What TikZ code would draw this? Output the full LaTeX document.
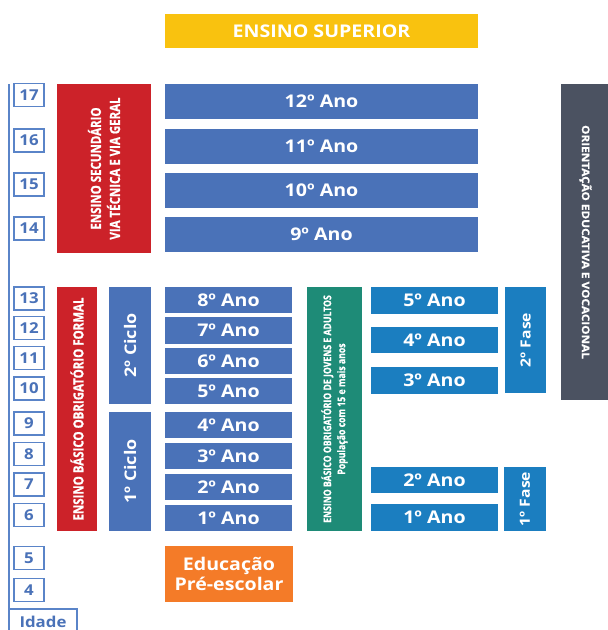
\documentclass[tikz,border=0pt]{standalone}
\usepackage{graphicx}
\usepackage{fontspec}
\setmainfont{Open Sans}[FakeStretch=1.12]
\newfontfamily\vcond{Open Sans}[FakeStretch=0.82, FakeBold=0.8]
\newfontfamily\vwide{Open Sans}[FakeStretch=1.12, FakeBold=0.6]
\definecolor{cyel}{HTML}{F9C20F}
\definecolor{cred}{HTML}{CC2229}
\definecolor{cblue}{HTML}{4A72B8}
\definecolor{cteal}{HTML}{1E8B77}
\definecolor{cbright}{HTML}{1B7EC0}
\definecolor{cgray}{HTML}{4B5261}
\definecolor{corange}{HTML}{F47B28}
\definecolor{cagebd}{HTML}{5A84C8}
\definecolor{cagetx}{HTML}{4A72B8}
\newcommand\hbx[7]{\node[#6, minimum width={(#4-#2)*1pt}, minimum height={(#5-#3)*1pt}] (#1) at ({(#2+#4)/2},{(#3+#5)/2}) {#7};}
\newcommand\vbx[8]{\node[#6, rotate=#8, minimum width={(#5-#3)*1pt}, minimum height={(#4-#2)*1pt}] (#1) at ({(#2+#4)/2},{(#3+#5)/2}) {#7};}
\newcommand\agebx[3]{\node[agebox] (#1) at (29,#2) {#3};}
\begin{document}
\begin{tikzpicture}[x=1pt,y=-1pt,
  boxbase/.style={inner sep=0pt, outer sep=0pt, text=white, align=center, font=\bfseries},
  ybox/.style={boxbase, fill=cyel, font=\fontsize{17.5}{20}\selectfont\bfseries},
  bigyear/.style={boxbase, fill=cblue, font=\fontsize{17.5}{20}\selectfont\bfseries},
  smallyear/.style={boxbase, fill=cblue, font=\fontsize{17.5}{20}\selectfont\bfseries},
  adultyear/.style={boxbase, fill=cbright, font=\fontsize{17.5}{20}\selectfont\bfseries},
  cyclebox/.style={boxbase, fill=cblue, font=\fontsize{16}{19}\selectfont\bfseries},
  phasebox/.style={boxbase, fill=cbright, font=\fontsize{14}{17}\selectfont\bfseries},
  redbox/.style={boxbase, fill=cred},
  tealbox/.style={boxbase, fill=cteal},
  graybox/.style={boxbase, fill=cgray},
  prebox/.style={boxbase, fill=corange, font=\fontsize{17.5}{20}\selectfont\bfseries},
  agebox/.style={draw=cagebd, line width=1.1pt, fill=white, minimum width=30pt, minimum height=23pt, inner sep=0pt, text=cagetx, font=\fontsize{15}{17}\selectfont\bfseries},
  idadebox/.style={draw=cagebd, line width=1.1pt, fill=white, inner sep=0pt, text=cagetx, font=\fontsize{15}{17}\selectfont\bfseries},
  ageline/.style={draw=cagebd, line width=1.1pt}
]
\useasboundingbox (0,0) rectangle (608,630);
% top
\hbx{sup}{165}{14}{478}{48}{ybox}{ENSINO SUPERIOR}
% secondary
\vbx{sec}{57}{84}{151}{253}{redbox, font=\vcond\fontsize{14}{19}\selectfont\bfseries}{ENSINO SECUNDÁRIO\\VIA TÉCNICA E VIA GERAL}{90}
\hbx{y12}{165}{84}{478}{119}{bigyear}{12º Ano}
\hbx{y11}{165}{129}{478}{164}{bigyear}{11º Ano}
\hbx{y10}{165}{173}{478}{208}{bigyear}{10º Ano}
\hbx{y9}{165}{217}{478}{252}{bigyear}{9º Ano}
\vbx{ori}{561}{84}{610}{400}{graybox, font=\vwide\fontsize{10.5}{13}\selectfont\bfseries}{ORIENTAÇÃO EDUCATIVA E VOCACIONAL}{-90}
% basic formal
\vbx{formal}{57}{287}{97}{531}{redbox, font=\vcond\fontsize{14}{17}\selectfont\bfseries}{ENSINO BÁSICO OBRIGATÓRIO FORMAL}{90}
\vbx{c2}{109}{287}{151}{404}{cyclebox}{2º Ciclo}{90}
\vbx{c1}{109}{412}{151}{531}{cyclebox}{1º Ciclo}{90}
\hbx{g8}{165}{287}{292}{313}{smallyear}{8º Ano}
\hbx{g7}{165}{317}{292}{344}{smallyear}{7º Ano}
\hbx{g6}{165}{348}{292}{374}{smallyear}{6º Ano}
\hbx{g5}{165}{378}{292}{404}{smallyear}{5º Ano}
\hbx{g4}{165}{412}{292}{438}{smallyear}{4º Ano}
\hbx{g3}{165}{443}{292}{469}{smallyear}{3º Ano}
\hbx{g2}{165}{474}{292}{500}{smallyear}{2º Ano}
\hbx{g1}{165}{505}{292}{531}{smallyear}{1º Ano}
% adults
\vbx{adult}{307}{287}{362}{531}{tealbox, font=\vcond\fontsize{10.6}{14}\selectfont\bfseries}{ENSINO BÁSICO OBRIGATÓRIO DE JOVENS E ADULTOS\\População com 15 e mais anos}{90}
\hbx{a5}{371}{287}{498}{314}{adultyear}{5º Ano}
\hbx{a4}{371}{327}{498}{353}{adultyear}{4º Ano}
\hbx{a3}{371}{367}{498}{394}{adultyear}{3º Ano}
\hbx{a2}{371}{467}{498}{493}{adultyear}{2º Ano}
\hbx{a1}{371}{504}{498}{531}{adultyear}{1º Ano}
\vbx{f2}{505}{287}{546}{393}{phasebox}{2º Fase}{90}
\vbx{f1}{504}{467}{546}{531}{phasebox}{1º Fase}{90}
% pre-school
\hbx{pre}{165}{546}{293}{602}{prebox}{Educação\\Pré-escolar}
% ages
\coordinate (ltop) at (9,84);
\coordinate (lbot) at (9,630);
\draw[ageline] (ltop) -- (lbot);
\agebx{a17}{95}{17}
\agebx{a16}{140.5}{16}
\agebx{a15}{184.5}{15}
\agebx{a14}{228.5}{14}
\agebx{a13}{298.5}{13}
\agebx{a12}{328}{12}
\agebx{a11}{358}{11}
\agebx{a10}{388.5}{10}
\agebx{a9}{423.5}{9}
\agebx{a8}{454}{8}
\agebx{a7}{484.5}{7}
\agebx{a6}{515}{6}
\agebx{a5b}{558}{5}
\agebx{a4b}{590}{4}
\hbx{idade}{9}{609}{77}{634}{idadebox}{Idade}
\end{tikzpicture}
\end{document}
